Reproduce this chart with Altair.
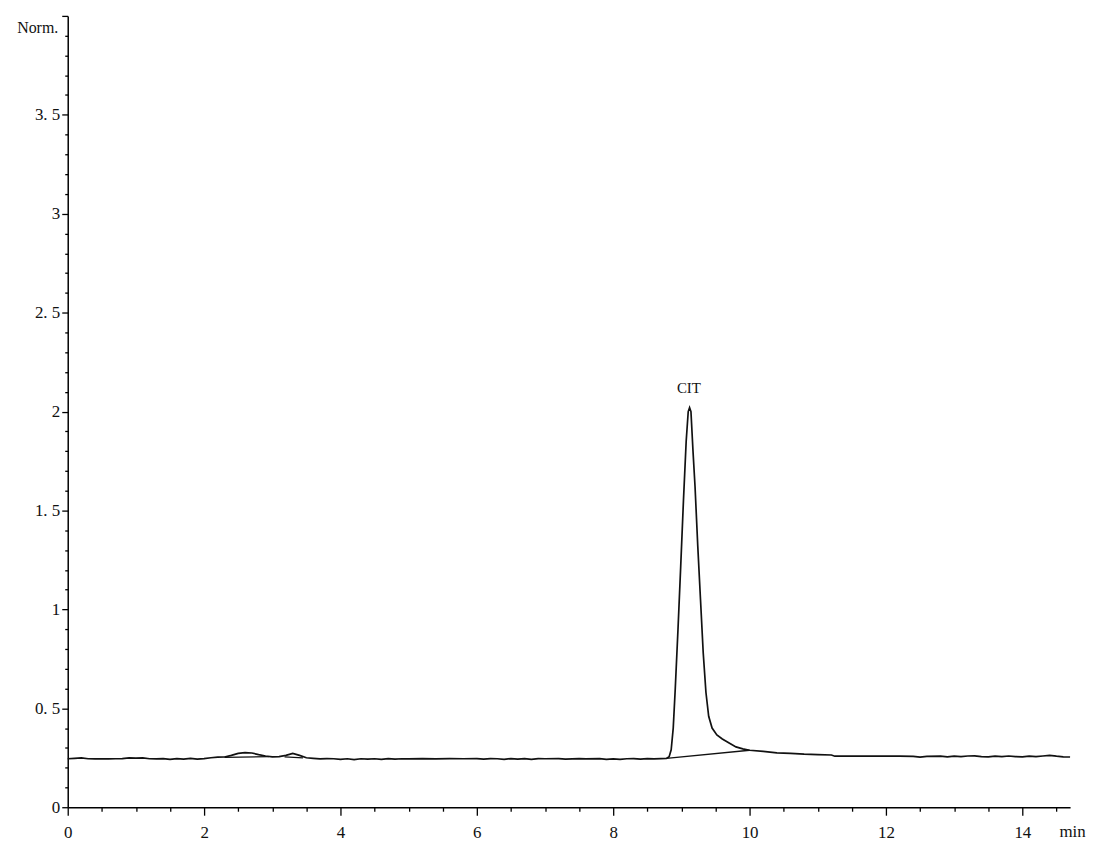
import altair as alt
import pandas as pd

# ---- data ----
time = [0.0, 0.1, 0.2, 0.3, 0.4, 0.5, 0.6, 0.7, 0.8, 0.9, 1.0, 1.1, 1.2, 1.3, 1.4,
        1.5, 1.6, 1.7, 1.8, 1.9, 2.0, 2.1, 2.2, 2.3, 2.4, 2.5, 2.6, 2.7, 2.8, 2.9,
        3.0, 3.1, 3.2, 3.3, 3.4, 3.5, 3.6, 3.7, 3.8, 3.9, 4.0, 4.1, 4.2, 4.3, 4.4,
        4.5, 4.6, 4.7, 4.8, 4.9, 5.0, 5.2, 5.4, 5.6, 5.8, 6.0, 6.1, 6.2, 6.3, 6.4,
        6.5, 6.6, 6.7, 6.8, 6.9, 7.0, 7.2, 7.3, 7.5, 7.6, 7.8, 7.9, 8.0, 8.1, 8.2,
        8.3, 8.4, 8.5, 8.6, 8.7, 8.78, 8.82, 8.85, 8.88, 8.91, 8.95, 8.99, 9.03,
        9.07, 9.10, 9.12, 9.14, 9.17, 9.20, 9.24, 9.28, 9.32, 9.36, 9.40, 9.45,
        9.52, 9.60, 9.70, 9.80, 9.90, 10.0, 10.2, 10.4, 10.6, 10.8, 11.0, 11.2,
        11.25, 11.4, 11.6, 11.8, 12.0, 12.2, 12.4, 12.5, 12.6, 12.8, 12.9, 13.0,
        13.1, 13.2, 13.3, 13.4, 13.5, 13.6, 13.7, 13.8, 13.9, 14.0, 14.1, 14.2,
        14.3, 14.4, 14.5, 14.6, 14.7]
signal = [0.245, 0.247, 0.249, 0.245, 0.244, 0.245, 0.244, 0.245, 0.246, 0.249,
          0.248, 0.249, 0.245, 0.244, 0.246, 0.242, 0.246, 0.243, 0.247, 0.243,
          0.246, 0.250, 0.253, 0.254, 0.262, 0.272, 0.276, 0.274, 0.266, 0.259,
          0.255, 0.256, 0.262, 0.272, 0.262, 0.250, 0.247, 0.244, 0.246, 0.245,
          0.242, 0.245, 0.241, 0.245, 0.243, 0.245, 0.242, 0.246, 0.243, 0.245,
          0.244, 0.246, 0.244, 0.246, 0.245, 0.246, 0.243, 0.246, 0.245, 0.242,
          0.246, 0.243, 0.246, 0.242, 0.246, 0.245, 0.246, 0.243, 0.246, 0.244,
          0.246, 0.242, 0.244, 0.242, 0.245, 0.246, 0.243, 0.246, 0.244, 0.246,
          0.247, 0.255, 0.29, 0.40, 0.60, 0.90, 1.22, 1.55,
          1.85, 2.00, 2.02, 2.00, 1.80, 1.62, 1.32, 1.05, 0.78, 0.58, 0.46, 0.40,
          0.365, 0.345, 0.325, 0.305, 0.295, 0.288, 0.282, 0.275, 0.272, 0.268,
          0.266, 0.264, 0.258, 0.258, 0.258, 0.258, 0.258, 0.258, 0.257, 0.253,
          0.257, 0.258, 0.255, 0.258, 0.256, 0.259, 0.260, 0.256, 0.255, 0.258,
          0.256, 0.259, 0.256, 0.255, 0.258, 0.256, 0.259, 0.262, 0.258, 0.255,
          0.254]

base_seg = ["b1", "b1", "b2", "b2", "b3", "b3"]
base_t = [2.3, 2.95, 3.18, 3.45, 8.78, 10.0]
base_v = [0.252, 0.256, 0.255, 0.250, 0.247, 0.288]

peak_name = ["CIT"]
peak_t = [9.11]
peak_v = [2.095]

x_ticks = [i * 0.5 for i in range(30)]
y_ticks = [round(i * 0.1, 1) for i in range(41)]

FONT = "Liberation Serif"
TXT = "#111111"

trace = pd.DataFrame({"t": time, "v": signal})
base = pd.DataFrame({"seg": base_seg, "t": base_t, "v": base_v})
lab = pd.DataFrame({"name": peak_name, "t": peak_t, "v": peak_v})

xscale = alt.Scale(domain=[0, 14.7], nice=False, zero=False)
yscale = alt.Scale(domain=[0, 4.0], nice=False)

xaxis = alt.Axis(
    values=x_ticks, tickCount=200,
    tickSize={"condition": {"test": "datum.value % 2 === 0", "value": 8}, "value": 4},
    labelExpr="datum.value % 2 === 0 ? format(datum.value, 'd') : ''",
    labelFont=FONT, labelFontSize=17, labelColor=TXT, labelPadding=9,
    labelOverlap=False, labelFlush=False,
    domainColor="black", domainWidth=1.5, tickColor="black", tickWidth=1.3,
    grid=False,
    title="min", titleFont=FONT, titleFontSize=17, titleFontWeight="normal",
    titleColor=TXT, titleX=1009, titleY=29, titleAlign="center",
    titleBaseline="alphabetic",
)
yaxis = alt.Axis(
    values=y_ticks, tickCount=200,
    tickSize={"condition": {"test": "abs(datum.value*2 - round(datum.value*2)) < 0.001",
                            "value": 6}, "value": 3},
    labelExpr="(abs(datum.value*2 - round(datum.value*2)) < 0.001 && datum.value < 3.9) ? replace(format(datum.value, '~g'), '.', '. ') : ''",
    labelFont=FONT, labelFontSize=17, labelColor=TXT, labelPadding=2,
    labelOverlap=False, labelFlush=False,
    domainColor="black", domainWidth=1.5, tickColor="black", tickWidth=1.3,
    grid=False,
    title="Norm.", titleFont=FONT, titleFontSize=16, titleFontWeight="normal",
    titleColor=TXT, titleAngle=0, titleAlign="right", titleBaseline="alphabetic",
    titleX=-10, titleY=17,
)

line = alt.Chart(trace).mark_line(color="#111111", strokeWidth=1.7).encode(
    x=alt.X("t:Q", scale=xscale, axis=xaxis),
    y=alt.Y("v:Q", scale=yscale, axis=yaxis),
    order="t:Q",
)
bl = alt.Chart(base).mark_line(color="#111111", strokeWidth=1.3).encode(
    x=alt.X("t:Q", scale=xscale),
    y=alt.Y("v:Q", scale=yscale),
    detail="seg:N",
)
txt = alt.Chart(lab).mark_text(font=FONT, fontSize=15, color=TXT,
                               baseline="alphabetic", align="center").encode(
    x=alt.X("t:Q", scale=xscale),
    y=alt.Y("v:Q", scale=yscale),
    text="name:N",
)

chart = alt.layer(line, bl, txt).properties(
    width=1007, height=795,
    autosize=alt.AutoSizeParams(type="none"),
    padding={"left": 60, "top": 6, "right": 16, "bottom": 34},
    background="white",
).configure_view(stroke=None)

chart.save("out.html", embed_options={"renderer": "svg", "actions": False})
